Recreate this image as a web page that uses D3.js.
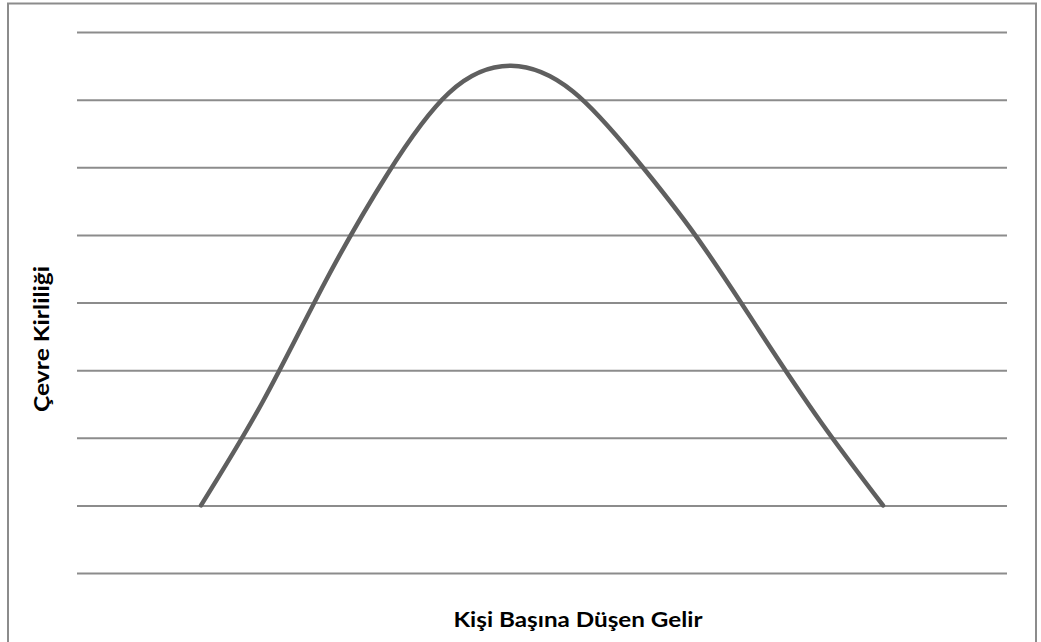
<!DOCTYPE html>
<html>
<head>
<meta charset="utf-8">
<script src="https://cdn.jsdelivr.net/npm/d3@7"></script>
<style>
  body { margin: 0; background: #fff; }
  .grid line { stroke: #8c8c8c; stroke-width: 2; }
  .grid path { display: none; }
  .title { font-family: Lato, "Open Sans", sans-serif; font-weight: bold; fill: #000; }
</style>
</head>
<body>
<div id="chart"></div>
<script>
// income positions (category index) and pollution values
var incomeSteps = [2, 3, 4, 5, 6, 7, 8, 9, 10, 11, 12, 13];
var pollution = [1.0, 2.54, 4.3, 5.89, 7.1, 7.5, 7.12, 6.14, 4.96, 3.59, 2.23, 1.0];
var gridValues = [0, 1, 2, 3, 4, 5, 6, 7, 8];
var xTitle = "Kişi Başına Düşen Gelir";
var yTitle = "Çevre Kirliliği";

var W = 1041, H = 642;
var margin = {top: 32, right: 34, bottom: 69, left: 77};
var width = W - margin.left - margin.right,
    height = H - margin.top - margin.bottom;

var svg = d3.select("#chart").append("svg")
    .attr("width", W)
    .attr("height", H);

// outer chart frame
svg.append("rect")
    .attr("x", 8)
    .attr("y", 3.5)
    .attr("width", 1028)
    .attr("height", 700)
    .attr("fill", "none")
    .attr("stroke", "#8c8c8c")
    .attr("stroke-width", 2);

var g = svg.append("g")
    .attr("transform", "translate(" + margin.left + "," + margin.top + ")");

var x = d3.scaleLinear()
    .domain([0, 15])
    .range([0, width]);

var y = d3.scaleLinear()
    .domain([0, 8])
    .range([height, 0]);

// horizontal gridlines, no labels
g.append("g")
    .attr("class", "grid")
    .call(d3.axisLeft(y)
        .tickValues(gridValues)
        .tickSize(-width)
        .tickFormat(""));

var line = d3.line()
    .x(function (d, i) { return x(incomeSteps[i]); })
    .y(function (d) { return y(d); })
    .curve(d3.curveNatural);

g.append("path")
    .datum(pollution)
    .attr("d", line)
    .attr("fill", "none")
    .attr("stroke", "#5f5f5f")
    .attr("stroke-width", 4.5)
    .attr("stroke-linecap", "round");

// axis titles
svg.append("text")
    .attr("class", "title")
    .attr("x", 578)
    .attr("y", 627)
    .attr("text-anchor", "middle")
    .attr("font-size", 20)
    .attr("textLength", 249)
    .attr("lengthAdjust", "spacingAndGlyphs")
    .text(xTitle);

svg.append("text")
    .attr("class", "title")
    .attr("transform", "translate(49,339) rotate(-90)")
    .attr("text-anchor", "middle")
    .attr("font-size", 20)
    .attr("textLength", 146)
    .attr("lengthAdjust", "spacingAndGlyphs")
    .text(yTitle);
</script>
</body>
</html>
